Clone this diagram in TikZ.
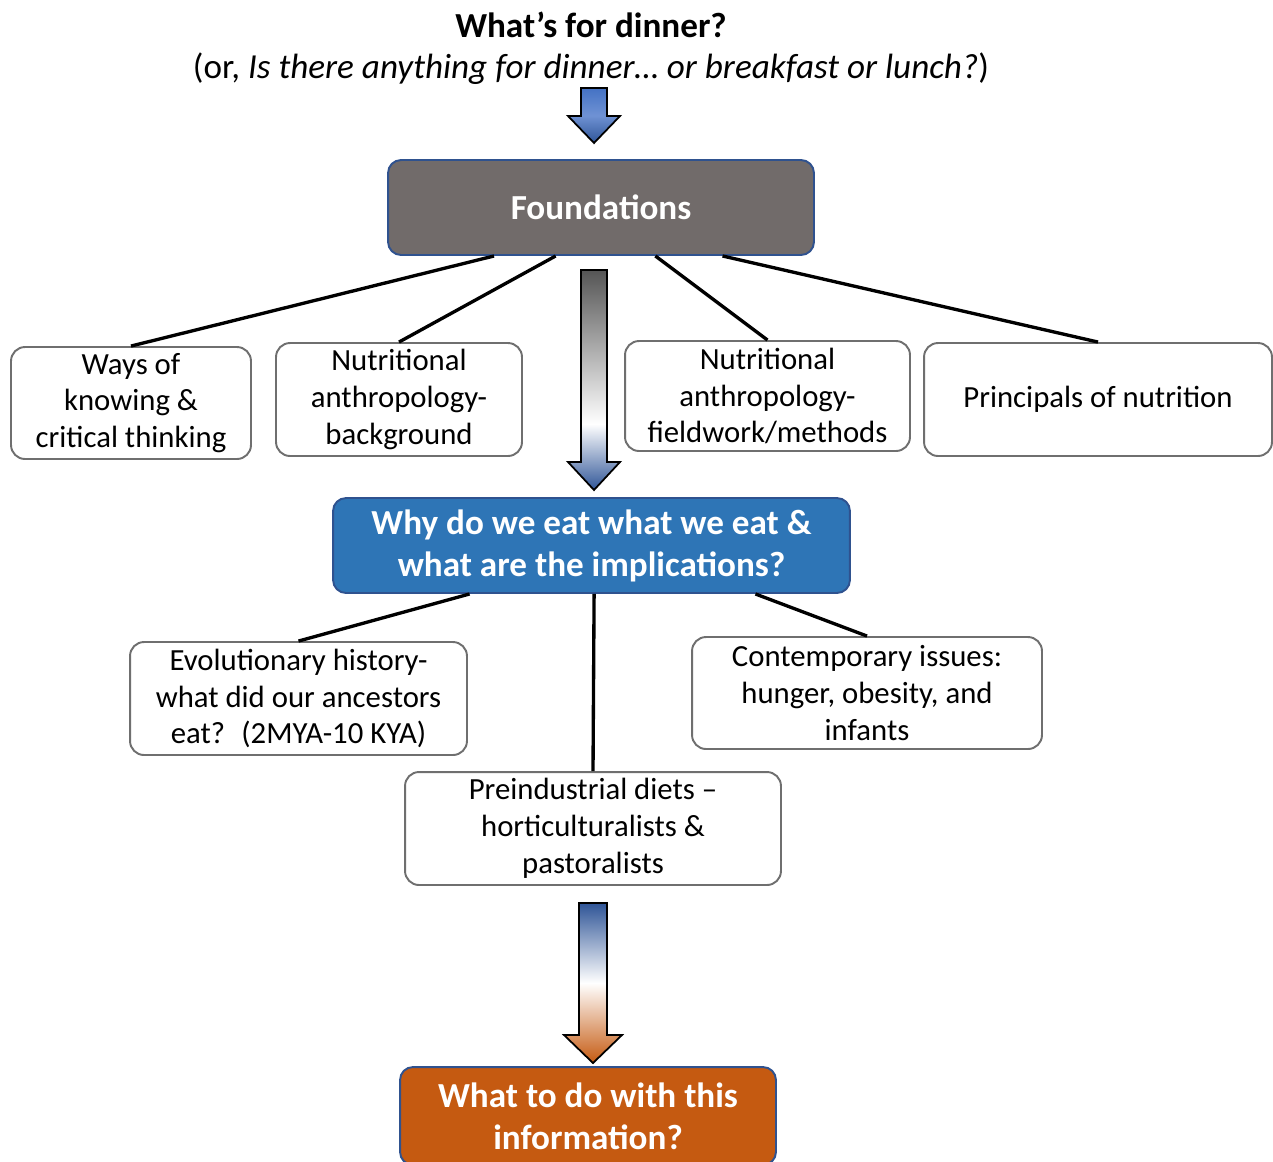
\documentclass[tikz,border=0pt]{standalone}
\usepackage{fontspec}
\setmainfont{Carlito}
\usepackage{xcolor}
\usetikzlibrary{calc}

\definecolor{founddark}{HTML}{716B6A}
\definecolor{edgeblue}{HTML}{2F528F}
\definecolor{whyblue}{HTML}{2E75B6}
\definecolor{todoorange}{HTML}{C55A11}
\definecolor{arrdark}{HTML}{2F5597}
\definecolor{arrlight}{HTML}{6F92D4}
\definecolor{arrmid}{HTML}{4472C4}
\definecolor{arrgray}{HTML}{555555}
\definecolor{boxedge}{HTML}{6F6F6F}

\pgfdeclareverticalshading{blueshade}{100bp}{color(0bp)=(arrdark); color(25bp)=(arrdark);
  color(50bp)=(arrlight); color(75bp)=(arrmid); color(100bp)=(arrmid)}
\pgfdeclareverticalshading{grayblue}{100bp}{color(0bp)=(arrdark); color(25bp)=(arrdark);
  color(40bp)=(white); color(75bp)=(arrgray); color(100bp)=(arrgray)}
\pgfdeclareverticalshading{blueorange}{100bp}{color(0bp)=(todoorange); color(25bp)=(todoorange);
  color(50bp)=(white); color(75bp)=(arrdark); color(100bp)=(arrdark)}

\begin{document}
\begin{tikzpicture}[
  x=0.02cm, y=-0.02cm,
  item/.style={draw=boxedge, line width=1.1pt, rounded corners=0.28cm, fill=white,
               align=center, font=\fontsize{17.5}{21}\selectfont, inner sep=0pt},
  head/.style={draw=edgeblue, line width=1.1pt, rounded corners=0.26cm, align=center,
               text=white, font=\fontsize{20}{24}\selectfont\bfseries, inner sep=0pt},
  link/.style={line width=1.9pt, black},
  fat/.style={draw=black, line width=1pt}
]
  \useasboundingbox (0,0) rectangle (1273,1161);

  % title
  \node[font=\fontsize{20}{24}\selectfont\bfseries] (title) at (591,25) {What’s for dinner?};
  \node[font=\fontsize{20}{24}\selectfont] (sub) at (591,69)
    {(or, \textit{Is there anything for dinner… or breakfast or lunch?})};

  % top level
  \node[head, fill=founddark, minimum width=8.52cm, minimum height=1.9cm] (found) at (601,207.5)
    {Foundations};

  \node[item, minimum width=4.8cm,  minimum height=2.24cm] (ways)  at (131,403)
    {Ways of\\knowing \&\\critical thinking};
  \node[item, minimum width=4.92cm, minimum height=2.26cm] (back)  at (399,399.5)
    {Nutritional\\anthropology-\\background};
  \node[item, minimum width=5.7cm,  minimum height=2.2cm]  (field) at (767.5,396)
    {Nutritional\\anthropology-\\fieldwork/methods};
  \node[item, minimum width=6.96cm, minimum height=2.26cm] (princ) at (1098,399.5)
    {Principals of nutrition};

  \draw[link] ($(found.south west)!0.25!(found.south east)$)  -- (ways.north);
  \draw[link] ($(found.south west)!0.394!(found.south east)$) -- (back.north);
  \draw[link] ($(found.south west)!0.627!(found.south east)$) -- (field.north);
  \draw[link] ($(found.south west)!0.784!(found.south east)$) -- (princ.north);

  % middle level
  \node[head, fill=whyblue, minimum width=10.34cm, minimum height=1.9cm] (why) at (591.5,545.5)
    {Why do we eat what we eat \&\\what are the implications?};

  \node[item, minimum width=6.74cm, minimum height=2.26cm] (evol) at (298.5,698.5)
    {Evolutionary history-\\what did our ancestors\\eat?~ (2MYA-10 KYA)};
  \node[item, minimum width=7cm,    minimum height=2.24cm] (cont) at (867,693)
    {Contemporary issues:\\hunger, obesity, and\\infants};
  \node[item, minimum width=7.52cm, minimum height=2.26cm] (pre)  at (593,828.5)
    {Preindustrial diets –\\horticulturalists \&\\pastoralists};

  \draw[link] ($(why.south west)!0.265!(why.south east)$) -- (evol.north);
  \draw[link] ($(why.south west)!0.505!(why.south east)$) -- (pre.north);
  \draw[link] ($(why.south west)!0.816!(why.south east)$) -- (cont.north);

  % bottom level
  \node[head, fill=todoorange, minimum width=7.52cm, minimum height=1.96cm] (todo) at (588,1116)
    {What to do with this\\information?};

  % block arrows
  \shade[fat, shading=blueshade]
    (581,88) -- (607,88) -- (607,116) -- (620,116) -- (594,143) -- (568,116) -- (581,116) -- cycle;
  \shade[fat, shading=grayblue]
    (581,270) -- (607,270) -- (607,462) -- (620,462) -- (594,490) -- (568,462) -- (581,462) -- cycle;
  \shade[fat, shading=blueorange]
    (579,903) -- (607,903) -- (607,1035) -- (622,1035) -- (593,1063) -- (564,1035) -- (579,1035) -- cycle;
\end{tikzpicture}
\end{document}
